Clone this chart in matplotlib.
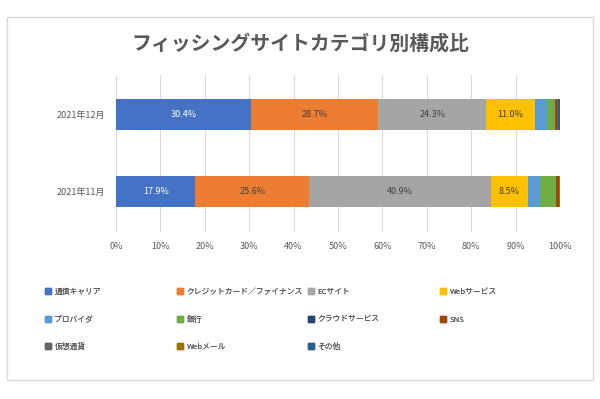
import matplotlib
matplotlib.use("Agg")
import matplotlib.pyplot as plt
from matplotlib.patches import Rectangle, Patch

plt.rcParams['font.family'] = ['Noto Sans CJK JP', 'DejaVu Sans']

months = ["2021年11月", "2021年12月"]
categories = ["通信キャリア", "クレジットカード／ファイナンス", "ECサイト", "Webサービス",
              "プロバイダ", "銀行", "クラウドサービス", "SNS",
              "仮想通貨", "Webメール", "その他"]
# share (%) per category, [Nov, Dec]
shares = [
    [17.9, 30.4],
    [25.6, 28.7],
    [40.9, 24.3],
    [8.5, 11.0],
    [2.6, 2.6],
    [3.6, 1.8],
    [0.0, 0.1],
    [0.7, 0.5],
    [0.0, 0.1],
    [0.2, 0.1],
    [0.0, 0.4],
]
colors = ["#4472C4", "#ED7D31", "#A5A5A5", "#FFC000", "#5B9BD5", "#70AD47",
          "#264478", "#9E480E", "#636363", "#997300", "#255E91"]
label_colors = ["white", "#404040", "#404040", "#404040"]

txt = "#595959"

fig = plt.figure(figsize=(6.0, 3.99), dpi=100)
fig.patches.append(Rectangle((7 / 600, 1 - 380 / 399), 586 / 600, 363 / 399,
                             transform=fig.transFigure, fill=False,
                             edgecolor="#D9D9D9", lw=1.0))

fig.text(0.5, 1 - 43 / 399, "フィッシングサイトカテゴリ別構成比", ha="center",
         va="center", fontsize=14.3, color=txt, fontweight="bold")

ax = fig.add_axes([116 / 600, 1 - 232 / 399, 444 / 600, 157 / 399])
left = [0.0, 0.0]
for i, cat in enumerate(categories):
    vals = shares[i]
    ax.barh(range(len(months)), vals, left=left, height=0.4, color=colors[i],
            zorder=3)
    if i < 4:
        for j, v in enumerate(vals):
            ax.text(left[j] + v / 2, j, "%.1f%%" % v, ha="center", va="center",
                    fontsize=6.5, color=label_colors[i], zorder=4)
    left = [left[k] + vals[k] for k in range(len(months))]

ax.set_xlim(0, 100)
ax.set_ylim(-0.53, 1.51)
ax.set_xticks(range(0, 101, 10))
ax.set_xticklabels(["%d%%" % t for t in range(0, 101, 10)])
ax.set_yticks(range(len(months)))
ax.set_yticklabels(months)
ax.tick_params(axis="both", length=0, labelsize=6.5, colors=txt)
ax.tick_params(axis="x", pad=7)
ax.tick_params(axis="y", pad=8)
ax.grid(axis="x", color="#D9D9D9", lw=0.8, zorder=0)
for s in ax.spines.values():
    s.set_visible(False)

# legend: four columns placed row by row
col_x = [42, 174, 305, 437]
for c in range(4):
    idx = list(range(c, len(categories), 4))
    handles = [Patch(color=colors[k]) for k in idx]
    leg = fig.legend(handles, [categories[k] for k in idx],
                     loc="upper left", bbox_to_anchor=(col_x[c] / 600, 1 - 285 / 399),
                     frameon=False, fontsize=5.6, labelcolor=txt,
                     handlelength=0.8, handleheight=0.8, handletextpad=0.4,
                     labelspacing=2.5, borderaxespad=0)
    fig.add_artist(leg)

fig.savefig("out.png", dpi=100)
